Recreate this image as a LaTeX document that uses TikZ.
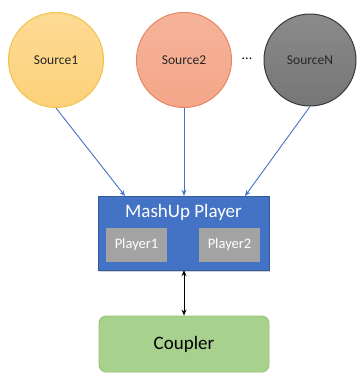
\documentclass[tikz,border=0pt]{standalone}
\usepackage{fontspec}
\setmainfont{Carlito}
\usetikzlibrary{positioning,shadows,arrows.meta}

\definecolor{srcone}{HTML}{FDD17A}
\definecolor{srconeline}{HTML}{F2C24B}
\definecolor{srctwo}{HTML}{F4A688}
\definecolor{srctwoline}{HTML}{E8875F}
\definecolor{srcn}{HTML}{767676}
\definecolor{srcnline}{HTML}{3A3A3A}
\definecolor{mashblue}{HTML}{4472C4}
\definecolor{playgray}{HTML}{A3A3A3}
\definecolor{couplergreen}{HTML}{A9D18E}
\definecolor{couplerline}{HTML}{93C173}

\begin{document}
\begin{tikzpicture}[x=1pt,y=1pt,
    source/.style={circle, minimum size=95pt, inner sep=0pt, line width=1pt, text=black!85, font=\fontsize{13.5}{15}\selectfont},
    player/.style={fill=playgray, minimum width=61pt, minimum height=34pt, inner sep=0pt, text=white, font=\fontsize{14.5}{16}\selectfont},
    link/.style={draw=mashblue, line width=0.9pt, -{Stealth[length=6pt,width=5pt]}}]
    \useasboundingbox (0,0) rectangle (359,-375);
    % sources
    \node[source, top color=srcone!80, bottom color=srcone, draw=srconeline] (s1) at (56,-60) {Source1};
    \node[source, top color=srctwo!85, bottom color=srctwo, draw=srctwoline] (s2) at (184,-60) {Source2};
    \node[source, minimum size=92pt, top color=srcn!85, bottom color=srcn, draw=srcnline] (sN) at (310,-60) {SourceN};
    \node[font=\fontsize{14}{16}\selectfont] (dots) at (247,-59) {...};
    % player box
    \node[fill=mashblue, draw=mashblue!80!black, minimum width=171pt, minimum height=74pt, inner sep=0pt,
          drop shadow={opacity=0.35, shadow xshift=1pt, shadow yshift=-1.5pt}] (mash) at (183.5,-233) {};
    \node[text=white, font=\fontsize{19}{21}\selectfont] (title) at (183.5,-212) {MashUp Player};
    \node[player] (p1) at (136.5,-245) {Player1};
    \node[player] (p2) at (229.5,-245) {Player2};
    % coupler
    \node[rounded corners=7pt, fill=couplergreen, draw=couplerline, line width=0.8pt, minimum width=170pt, minimum height=56pt,
          font=\fontsize{19}{21}\selectfont] (coupler) at (184,-344) {Coupler};
    % links
    \coordinate (in1) at (125,-196);
    \coordinate (inN) at (245,-196);
    \draw[link] (s1.south) -- (in1);
    \draw[link] (s2.south) -- (s2.south |- mash.north);
    \draw[link] (sN.south) -- (inN);
    \draw[line width=0.9pt, {Stealth[length=6pt,width=5pt]}-{Stealth[length=6pt,width=5pt]}] (mash.south -| coupler.north) -- (coupler.north);
\end{tikzpicture}
\end{document}
